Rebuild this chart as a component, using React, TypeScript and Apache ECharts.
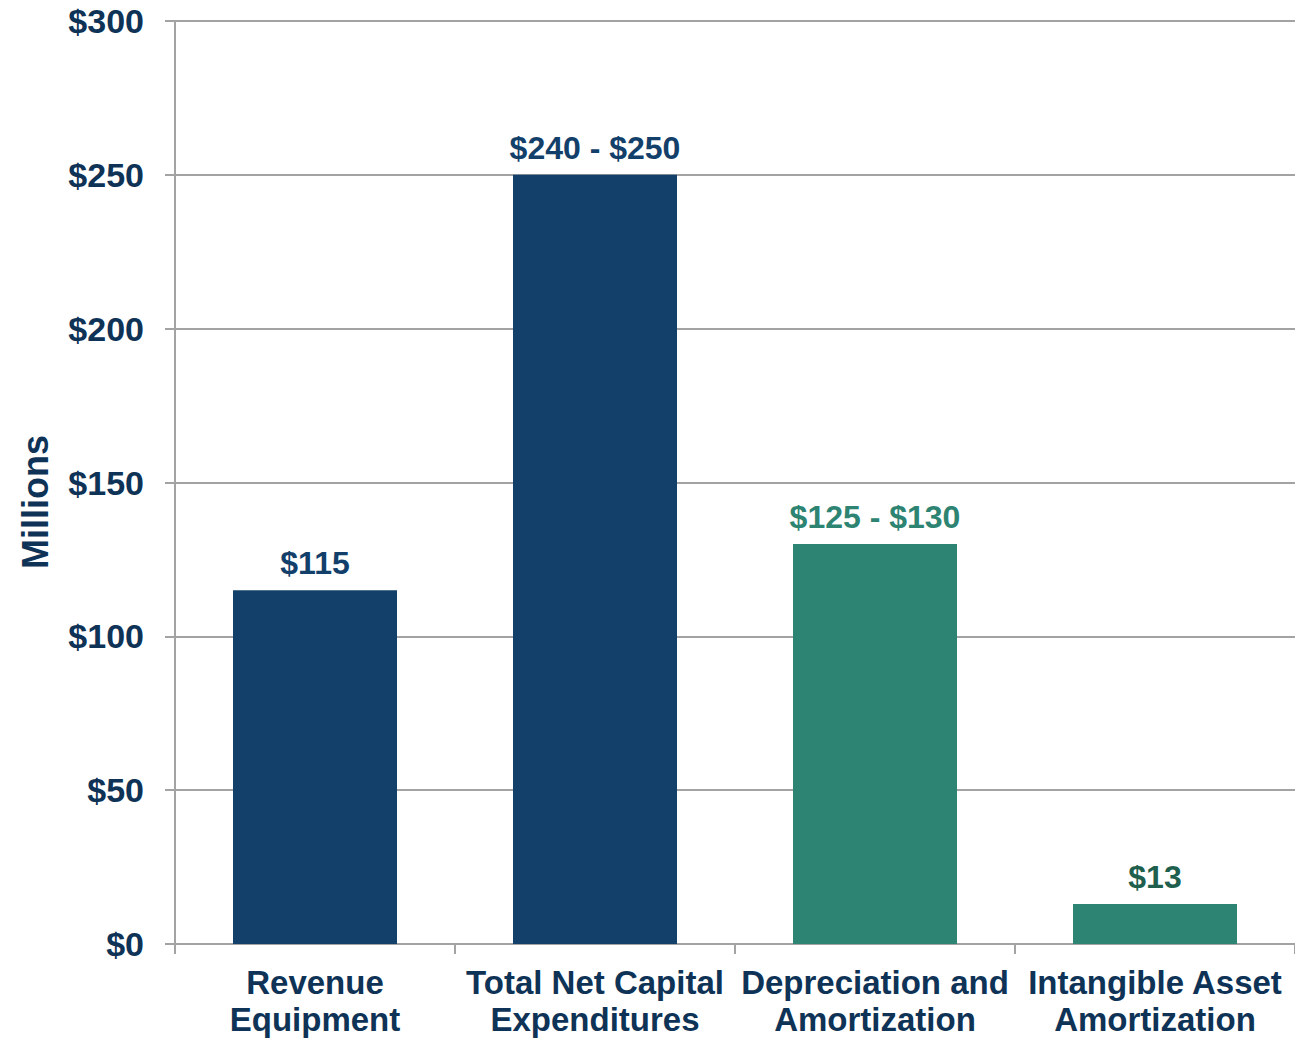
import React, { useEffect, useRef } from "react";
import * as echarts from "echarts";

const categories = ["Revenue\nEquipment", "Total Net Capital\nExpenditures", "Depreciation and\nAmortization", "Intangible Asset\nAmortization"];
const values = [115, 250, 130, 13];
const barLabels = ["$115", "$240 - $250", "$125 - $130", "$13"];
const barColors = ["#12406A", "#12406A", "#2E8472", "#2E8472"];
const labelColors = ["#13406A", "#13406A", "#2E8472", "#1F5F4E"];
const yTicks = [0, 50, 100, 150, 200, 250, 300];
const yAxisTitle = "Millions";

const NAVY = "#0E3356";
const GRAY = "#A3A3A3";
const FONT = "'Liberation Sans', Arial, sans-serif";

export default function App() {
  const ref = useRef<HTMLDivElement>(null);
  useEffect(() => {
    if (!ref.current) return;
    const chart = echarts.init(ref.current, undefined, { renderer: "svg" });
    chart.setOption({
      animation: false,
      backgroundColor: "#ffffff",
      grid: { left: 175, right: 0, top: 21, bottom: 94, containLabel: false, outerBoundsMode: "none" },
      graphic: [
        {
          type: "text",
          x: 35,
          y: 502,
          rotation: Math.PI / 2,
          style: {
            text: yAxisTitle,
            fill: NAVY,
            font: `bold 36px ${FONT}`,
            align: "center",
            verticalAlign: "middle",
          },
        },
      ],
      xAxis: {
        type: "category",
        data: categories,
        axisLine: { show: true, lineStyle: { color: GRAY, width: 2 } },
        axisTick: { show: true, alignWithLabel: false, length: 10, lineStyle: { color: GRAY, width: 2 } },
        axisLabel: {
          color: NAVY,
          fontFamily: FONT,
          fontWeight: "bold",
          fontSize: 33,
          lineHeight: 37,
          margin: 20,
          interval: 0,
        },
      },
      yAxis: {
        type: "value",
        min: yTicks[0],
        max: yTicks[yTicks.length - 1],
        interval: 50,
        axisLine: { show: true, lineStyle: { color: GRAY, width: 2 } },
        axisTick: { show: true, length: 10, lineStyle: { color: GRAY, width: 2 } },
        splitLine: { show: true, lineStyle: { color: GRAY, width: 2 } },
        axisLabel: {
          color: NAVY,
          fontFamily: FONT,
          fontWeight: "bold",
          fontSize: 34,
          margin: 31,
          formatter: (v: number) => "$" + v,
        },
      },
      series: [
        {
          type: "bar",
          barWidth: 164,
          data: values.map((v, i) => ({
            value: v,
            itemStyle: { color: barColors[i] },
            label: {
              show: true,
              position: "top",
              distance: 11,
              formatter: barLabels[i],
              color: labelColors[i],
              fontFamily: FONT,
              fontWeight: "bold",
              fontSize: 32,
            },
          })),
        },
      ],
    });
    return () => chart.dispose();
  }, []);
  return (
    <div
      ref={ref}
      style={{ position: "fixed", left: 0, top: 0, width: 1295, height: 1038, background: "#fff" }}
    />
  );
}
